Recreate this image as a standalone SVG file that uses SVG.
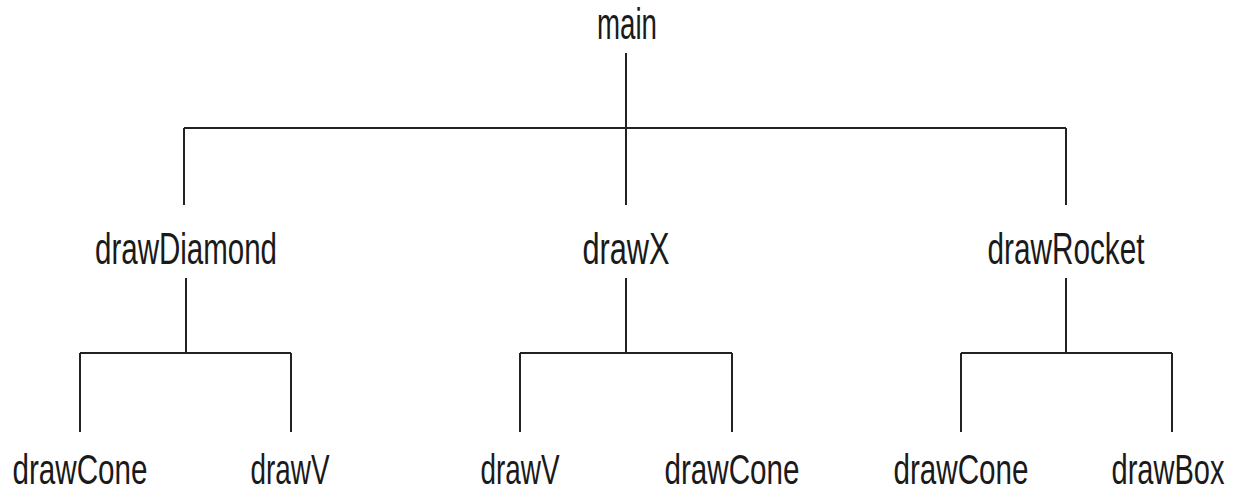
<svg xmlns="http://www.w3.org/2000/svg" width="1241" height="493" viewBox="0 0 1241 493">
<style>
text{font-family:"Liberation Sans",Arial,sans-serif;font-size:44px;fill:#1a1a1a;text-anchor:middle}
text.b{font-size:43px}
.c line{stroke:#222;stroke-width:2}
</style>
<rect width="1241" height="493" fill="#fff"/>
<g class="c" id="connectors">
<line x1="626" y1="53" x2="626" y2="205"/>
<line x1="184" y1="128" x2="1066" y2="128"/>
<line x1="184" y1="128" x2="184" y2="205"/>
<line x1="1066" y1="128" x2="1066" y2="205"/>
<line x1="186" y1="278" x2="186" y2="353"/>
<line x1="80" y1="353" x2="291" y2="353"/>
<line x1="80" y1="353" x2="80" y2="432"/>
<line x1="291" y1="353" x2="291" y2="432"/>
<line x1="626" y1="278" x2="626" y2="353"/>
<line x1="520" y1="353" x2="732" y2="353"/>
<line x1="520" y1="353" x2="520" y2="432"/>
<line x1="732" y1="353" x2="732" y2="432"/>
<line x1="1066" y1="278" x2="1066" y2="353"/>
<line x1="961" y1="353" x2="1172" y2="353"/>
<line x1="961" y1="353" x2="961" y2="432"/>
<line x1="1172" y1="353" x2="1172" y2="432"/>
</g>
<g id="main"><text transform="translate(627 39) scale(0.67 1)" textLength="89.6" lengthAdjust="spacingAndGlyphs">main</text></g>
<g id="drawDiamond"><text transform="translate(186 264) scale(0.67 1)" textLength="271.6" lengthAdjust="spacingAndGlyphs">drawDiamond</text></g>
<g id="drawX"><text transform="translate(626 264) scale(0.67 1)" textLength="129.9" lengthAdjust="spacingAndGlyphs">drawX</text></g>
<g id="drawRocket"><text transform="translate(1066 264) scale(0.67 1)" textLength="234.3" lengthAdjust="spacingAndGlyphs">drawRocket</text></g>
<g id="drawCone1"><text class="b" transform="translate(80 484) scale(0.67 1)" textLength="201.5" lengthAdjust="spacingAndGlyphs">drawCone</text></g>
<g id="drawV1"><text class="b" transform="translate(290 484) scale(0.67 1)" textLength="117.9" lengthAdjust="spacingAndGlyphs">drawV</text></g>
<g id="drawV2"><text class="b" transform="translate(520 484) scale(0.67 1)" textLength="117.9" lengthAdjust="spacingAndGlyphs">drawV</text></g>
<g id="drawCone2"><text class="b" transform="translate(732 484) scale(0.67 1)" textLength="201.5" lengthAdjust="spacingAndGlyphs">drawCone</text></g>
<g id="drawCone3"><text class="b" transform="translate(961 484) scale(0.67 1)" textLength="201.5" lengthAdjust="spacingAndGlyphs">drawCone</text></g>
<g id="drawBox"><text class="b" transform="translate(1168 484) scale(0.67 1)" textLength="168.7" lengthAdjust="spacingAndGlyphs">drawBox</text></g>
</svg>
